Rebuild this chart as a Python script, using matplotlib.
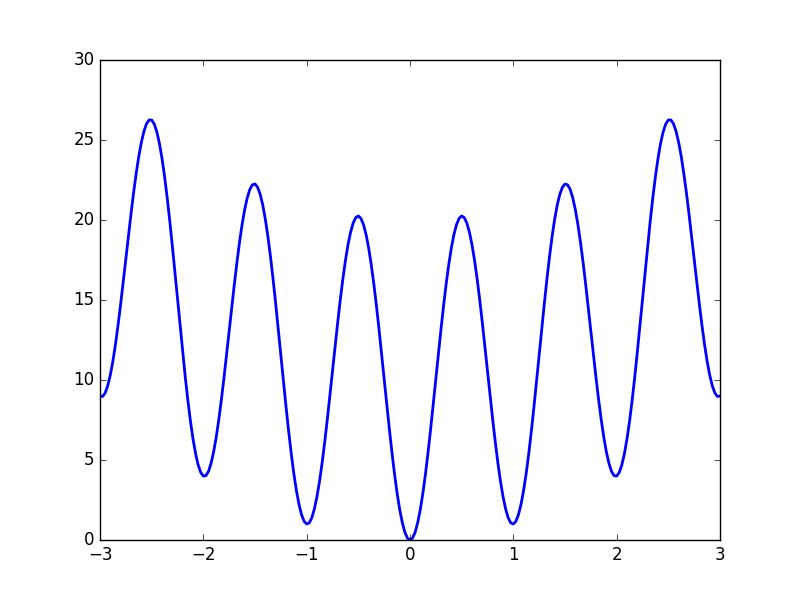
import matplotlib
matplotlib.use("Agg")
import matplotlib.pyplot as plt

x_vals = [round(-3 + 0.025 * i, 3) for i in range(241)]
y_neg = [9.00, 8.97, 9.19, 9.65, 10.32, 11.19, 12.24, 13.44, 14.75, 16.14,
         17.56, 18.99, 20.38, 21.70, 22.90, 23.96, 24.85, 25.54, 26.01, 26.25,
         26.25, 26.00, 25.51, 24.79, 23.85, 22.71, 21.40, 19.95, 18.38, 16.74,
         15.06, 13.39, 11.75, 10.19, 8.74, 7.44, 6.32, 5.40, 4.69, 4.22,
         4.00, 4.02, 4.29, 4.80, 5.52, 6.44, 7.54, 8.79, 10.15, 11.59,
         13.06, 14.54, 15.98, 17.35, 18.60, 19.71, 20.65, 21.39, 21.91, 22.20,
         22.25, 22.05, 21.61, 20.94, 20.05, 18.96, 17.70, 16.30, 14.78, 13.19,
         11.56, 9.94, 8.35, 6.84, 5.44, 4.19, 3.12, 2.25, 1.59, 1.17,
         1.00, 1.07, 1.39, 1.95, 2.72, 3.69, 4.84, 6.14, 7.55, 9.04,
         10.56, 12.09, 13.58, 15.00, 16.30, 17.46, 18.45, 19.24, 19.81, 20.15,
         20.25, 20.10, 19.71, 19.09, 18.25, 17.21, 16.00, 14.65, 13.18, 11.64,
         10.06, 8.49, 6.95, 5.49, 4.14, 2.94, 1.92, 1.10, 0.49, 0.12]
y_pos = [0.00, 0.12, 0.49, 1.10, 1.92, 2.94, 4.14, 5.49, 6.95, 8.49,
         10.06, 11.64, 13.18, 14.65, 16.00, 17.21, 18.25, 19.09, 19.71, 20.10,
         20.25, 20.15, 19.81, 19.24, 18.45, 17.46, 16.30, 15.00, 13.58, 12.09,
         10.56, 9.04, 7.55, 6.14, 4.84, 3.69, 2.72, 1.95, 1.39, 1.07,
         1.00, 1.17, 1.59, 2.25, 3.12, 4.19, 5.44, 6.84, 8.35, 9.94,
         11.56, 13.19, 14.78, 16.30, 17.70, 18.96, 20.05, 20.94, 21.61, 22.05,
         22.25, 22.20, 21.91, 21.39, 20.65, 19.71, 18.60, 17.35, 15.98, 14.54,
         13.06, 11.59, 10.15, 8.79, 7.54, 6.44, 5.52, 4.80, 4.29, 4.02,
         4.00, 4.22, 4.69, 5.40, 6.32, 7.44, 8.74, 10.19, 11.75, 13.39,
         15.06, 16.74, 18.38, 19.95, 21.40, 22.71, 23.85, 24.79, 25.51, 26.00,
         26.25, 26.25, 26.01, 25.54, 24.85, 23.96, 22.90, 21.70, 20.38, 18.99,
         17.56, 16.14, 14.75, 13.44, 12.24, 11.19, 10.32, 9.65, 9.19, 8.97,
         9.00]
y_vals = y_neg + y_pos

plt.style.use("classic")
fig = plt.figure(figsize=(8, 6), dpi=100, facecolor="white")
ax = fig.add_subplot(111)
ax.plot(x_vals, y_vals, color="b", linewidth=2)
ax.set_xlim(-3, 3)
ax.set_ylim(0, 30)
fig.savefig("out.png", dpi=100, facecolor="white")
